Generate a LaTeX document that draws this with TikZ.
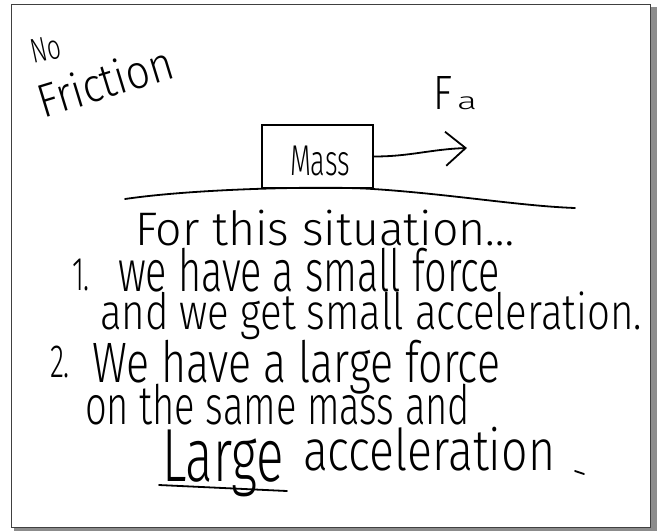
\documentclass[tikz,border=0pt]{standalone}
\usepackage{fontspec}
\usepackage{graphicx}
\setmainfont{Fira Sans}[UprightFont={* Light}]
\usetikzlibrary{arrows.meta}
\newcommand{\hw}[3]{\resizebox*{#1pt}{#2pt}{#3}}
\begin{document}
\begin{tikzpicture}[x=1pt,y=-1pt,
  ink/.style={line width=1.8pt,line cap=round,line join=round},
  txt/.style={inner sep=0pt,outer sep=0pt,anchor=north west},
  rtxt/.style={inner sep=0pt,outer sep=0pt,anchor=center}]
\useasboundingbox (0,0) rectangle (660,531);
% frame with shadow
\fill[black!45] (650,7) rectangle (657,531);
\fill[black!45] (14,527) rectangle (657,531);
\draw[line width=1pt,black!75] (11,4) rectangle (650,527);
% title
\node[rtxt,rotate=12] (no) at (46,49) {\hw{30}{24}{No}};
\node[rtxt,rotate=17] (fric) at (105,81) {\hw{140}{36}{Friction}};
% force label
\node[txt] (fF) at (433,76) {\hw{19}{33}{F}};
\node[txt] (fa) at (457,97) {\hw{20}{13}{a}};
% mass block
\node[draw,line width=1.4pt,minimum width=111pt,minimum height=63pt,inner sep=0pt] (mass) at (317.5,156.5) {};
\node[rtxt] (masstxt) at (320,161) {\hw{60}{30}{Mass}};
\coordinate (tip) at (467,148);
\draw[ink,-{Straight Barb[length=20pt,width=34pt,line width=1.8pt]}] (mass.east) to[out=0,in=182] (tip);
% ground
\coordinate (g1) at (125,199);
\coordinate (g2) at (575,208);
\draw[ink] (g1) .. controls (200,188) and (330,186) .. (373,189) .. controls (450,194) and (520,206) .. (g2);
% text lines
\node[txt] (l1) at (135,210) {\hw{380}{36}{For this situation\ldots}};
\node[txt] (n1) at (72,259) {\hw{18}{32}{1.}};
\node[txt] (l2) at (118,248) {\hw{382}{44}{we have a small force}};
\node[txt] (l3) at (100,292) {\hw{542}{48}{and we get small acceleration.}};
\node[txt] (n2) at (50,346) {\hw{20}{32}{2.}};
\node[txt] (l4) at (92,340) {\hw{408}{54}{We have a large force}};
\node[txt] (l5) at (85,384) {\hw{385}{41}{on the same mass and}};
\node[txt] (l6a) at (162,430) {\hw{122}{67}{Large}};
\node[txt] (l6b) at (303,427) {\hw{252}{44}{acceleration}};
\coordinate (u1) at (159,485);
\coordinate (u2) at (287,491);
\draw[ink] (u1) -- (u2);
\coordinate (d1) at (575,471);
\coordinate (d2) at (584,474);
\draw[ink] (d1) -- (d2);
\end{tikzpicture}
\end{document}
